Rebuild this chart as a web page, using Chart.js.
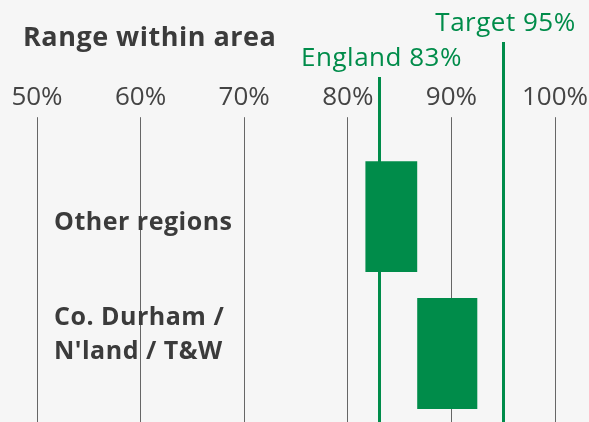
<!DOCTYPE html>
<html>
<head>
<meta charset="utf-8">
<script src="https://cdn.jsdelivr.net/npm/chart.js@4"></script>
<style>
  html, body { margin: 0; padding: 0; background: #f6f6f6; }
  #wrap { width: 589px; height: 422px; }
</style>
</head>
<body>
<div id="wrap"><canvas id="rangeChart" width="589" height="422"></canvas></div>
<script>
const categories = [['Other regions'], ['Co. Durham /', "N'land / T&W"]];
const rangeLow = [81.7, 86.7];
const rangeHigh = [86.7, 92.5];
const refValues = [83, 95];
const refLabels = ['England 83%', 'Target 95%'];
const xTicks = [50, 60, 70, 80, 90, 100];

const GREEN = '#008c4a';
const TEXT = '#3b3b3b';
const FONT = '"Open Sans", sans-serif';

// title, category labels and reference lines
const overlay = {
  id: 'overlay',
  beforeDatasetsDraw(chart) {
    const { ctx, chartArea, scales: { x } } = chart;
    const tops = [77, 42];
    ctx.save();
    ctx.letterSpacing = '0.5px';
    refValues.forEach((v, i) => {
      const px = Math.round(x.getPixelForValue(v)) + 0.5;
      ctx.strokeStyle = GREEN;
      ctx.lineWidth = 3;
      ctx.beginPath();
      ctx.moveTo(px, tops[i]);
      ctx.lineTo(px, chartArea.bottom);
      ctx.stroke();
      ctx.fillStyle = GREEN;
      ctx.font = '26px ' + FONT;
      ctx.textAlign = 'center';
      ctx.textBaseline = 'alphabetic';
      ctx.fillText(refLabels[i], px + 2, tops[i] - 11);
    });
    ctx.restore();
  },
  afterDraw(chart) {
    const { ctx, scales: { y } } = chart;
    const firstLine = [13, -29];
    ctx.save();
    ctx.letterSpacing = '0.5px';
    ctx.fillStyle = TEXT;
    ctx.textAlign = 'left';
    ctx.textBaseline = 'alphabetic';
    ctx.font = 'bold 27px ' + FONT;
    ctx.fillText('Range within area', 23, 46);
    ctx.font = 'bold 25px ' + FONT;
    categories.forEach((lines, i) => {
      const base = y.getPixelForValue(i) + firstLine[i];
      lines.forEach((t, j) => ctx.fillText(t, 54, base + j * 34));
    });
    ctx.restore();
  }
};

new Chart(document.getElementById('rangeChart'), {
  type: 'bar',
  data: {
    labels: categories.map(c => c.join(' ')),
    datasets: [{
      data: rangeLow.map((lo, i) => [lo, rangeHigh[i]]),
      backgroundColor: GREEN,
      borderWidth: 0,
      barPercentage: 0.81,
      categoryPercentage: 1
    }]
  },
  options: {
    indexAxis: 'y',
    responsive: false,
    animation: false,
    devicePixelRatio: 1,
    layout: { padding: { top: 78, left: 37, right: 34, bottom: 0 } },
    plugins: { legend: { display: false }, tooltip: { enabled: false } },
    scales: {
      x: {
        position: 'top',
        min: 50,
        max: 100,
        afterBuildTicks(axis) { axis.ticks = xTicks.map(v => ({ value: v })); },
        afterFit(axis) { axis.paddingLeft = 0; axis.paddingRight = 0; },
        grid: { color: '#666', lineWidth: 1, tickLength: 31, drawTicks: true },
        border: { display: false },
        ticks: {
          padding: 4,
          color: '#444',
          font: { family: FONT, size: 26 },
          maxRotation: 0,
          callback: v => v + '%'
        }
      },
      y: { display: false }
    }
  },
  plugins: [overlay]
});
</script>
</body>
</html>
